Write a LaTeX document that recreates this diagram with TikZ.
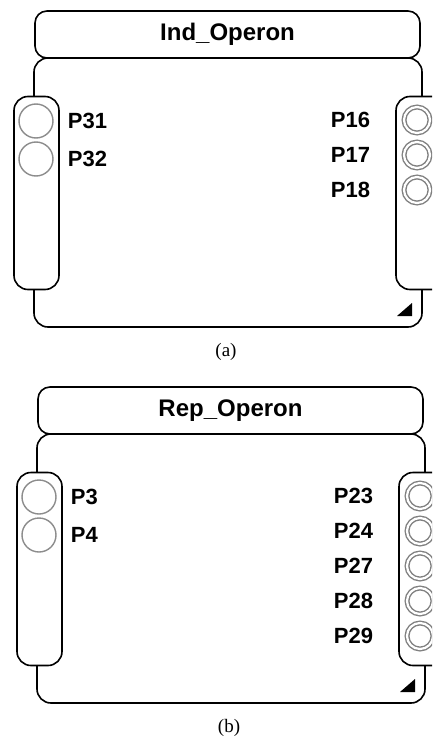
\documentclass[tikz,border=0pt]{standalone}
\usepackage{fontspec}
\setmainfont{Liberation Serif}
\setsansfont{Liberation Sans}
\usepackage{tikz}
\usetikzlibrary{positioning}

\begin{document}
\begin{tikzpicture}[x=1pt, y=-1pt,
    titlebox/.style={rectangle, draw, line width=1.6pt, rounded corners=12pt, minimum width=385pt, minimum height=47pt, inner sep=0pt, font=\sffamily\bfseries\fontsize{24}{28}\selectfont},
    bodybox/.style={rectangle, draw, line width=1.6pt, rounded corners=14pt, minimum width=388pt, minimum height=269pt, inner sep=0pt},
    portbox/.style={rectangle, draw, fill=white, line width=1.6pt, rounded corners=14pt, minimum height=193pt, inner sep=0pt},
    inport/.style={circle, draw=black!45, line width=1.4pt, minimum size=34pt, inner sep=0pt},
    outport/.style={circle, draw=black!50, double=white, double distance=2.2pt, line width=1.4pt, minimum size=26pt, inner sep=0pt},
    portlabel/.style={font=\sffamily\bfseries\fontsize{22}{26}\selectfont, inner sep=0pt},
    caption/.style={font=\fontsize{19}{22}\selectfont}
]
\clip (0,0) rectangle (432,738);

% (a) inducible operon
\node[bodybox] (indbody) at (228,192.5) {};
\node[titlebox] (indtitle) at (227.5,34.5) {Ind\_Operon};
\node[portbox, minimum width=45pt] (indleft) at (36.5,193) {};
\node[portbox, minimum width=64pt] (indright) at (428,193) {};
\foreach \n [count=\i] in {31,32}
    \node[inport] (indin\i) at (36,83+38*\i) {};
\foreach \n [count=\i] in {31,32}
    \node[portlabel, right=14pt of indin\i] (indinlab\i) {P\n};
\foreach \n [count=\i] in {16,17,18}
    \node[outport] (indout\i) at (417,85+35*\i) {};
\foreach \n [count=\i] in {16,17,18}
    \node[portlabel, left=33pt of indout\i] (indoutlab\i) {P\n};
\fill (397,316) -- (412,316) -- (412,303) -- cycle;
\node[caption] (indcap) at (226,352) {(a)};

% (b) repressible operon
\begin{scope}[shift={(3,376)}]
\node[bodybox] (repbody) at (228,192.5) {};
\node[titlebox] (reptitle) at (227.5,34.5) {Rep\_Operon};
\node[portbox, minimum width=45pt] (repleft) at (36.5,193) {};
\node[portbox, minimum width=64pt] (repright) at (428,193) {};
\foreach \n [count=\i] in {3,4}
    \node[inport] (repin\i) at (36,83+38*\i) {};
\foreach \n [count=\i] in {3,4}
    \node[portlabel, right=14pt of repin\i] (repinlab\i) {P\n};
\foreach \n [count=\i] in {23,24,27,28,29}
    \node[outport] (repout\i) at (417,85+35*\i) {};
\foreach \n [count=\i] in {23,24,27,28,29}
    \node[portlabel, left=33pt of repout\i] (repoutlab\i) {P\n};
\fill (397,316) -- (412,316) -- (412,303) -- cycle;
\node[caption] (repcap) at (226,352) {(b)};
\end{scope}

\end{tikzpicture}
\end{document}
